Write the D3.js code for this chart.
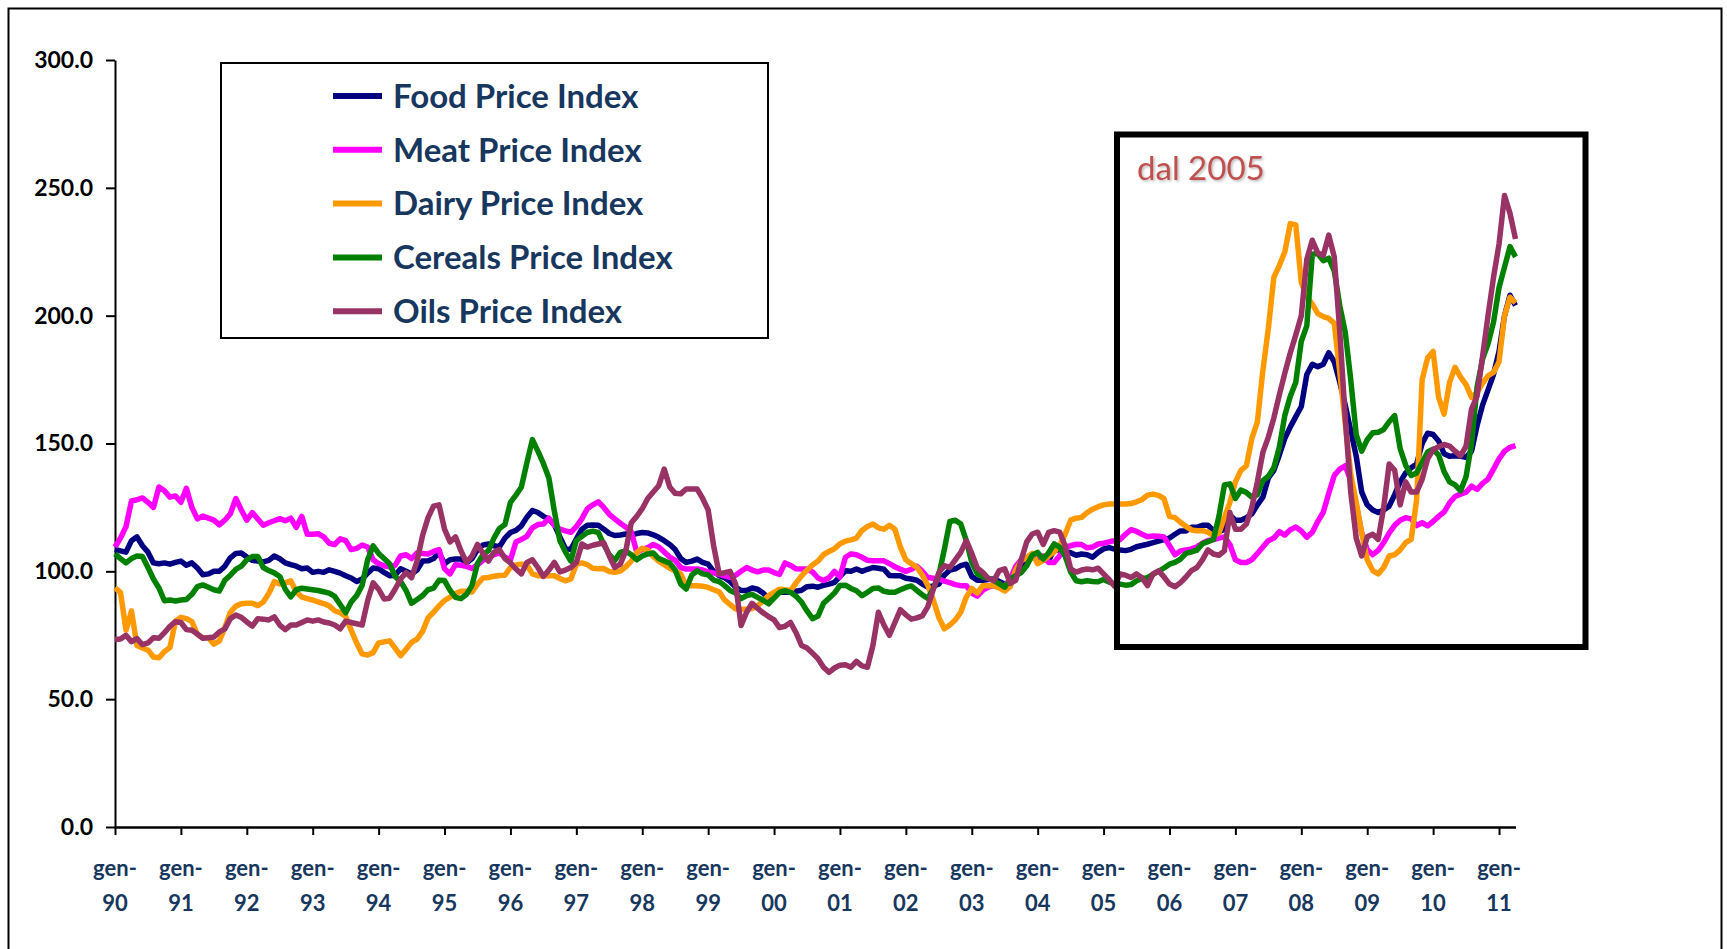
<!DOCTYPE html>
<html>
<head>
<meta charset="utf-8">
<script src="https://cdn.jsdelivr.net/npm/d3@7"></script>
<style>
  body { margin: 0; background: #fff; }
  text { font-family: Lato, "Open Sans", sans-serif; }
</style>
</head>
<body>
<script>
// monthly values, gen-90 .. apr-11 (256 months)
var food = [
  108.6, 108, 107.5, 112, 113.5, 110, 107.5, 103.3, 103, 103.3, 102.8, 103.5,
  104, 102.4, 103.3, 101.3, 98.7, 99, 100, 100, 102, 105.3, 107, 107.2,
  105.6, 104.3, 104, 103.7, 104.3, 106, 104.9, 103.3, 102.6, 102, 101, 101.3,
  99.6, 100, 99.6, 100.6, 100, 99.3, 98.3, 97.4, 96, 97, 99.3, 101.3,
  101, 99.6, 98.3, 98.5, 101, 100, 99, 100.5, 104, 104.1, 105, 107.4,
  103, 104.5, 104.8, 104.8, 103.3, 105, 108.5, 110.3, 110.7, 110, 109.6, 113,
  115.2, 116, 117.8, 121.2, 123.8, 123, 121.5, 120.4, 118.2, 113.5, 109, 108.5,
  112.6, 116.5, 118, 118.1, 118, 116.5, 114.8, 114, 114.2, 114.6, 114, 114.8,
  115.2, 115, 114.3, 113.3, 112, 110.5, 108.5, 105, 103.5, 104, 104.8, 103.5,
  102.8, 100, 98.3, 97.5, 96, 93.8, 92.5, 92.5, 93.5, 93, 91.5, 89.5,
  90.5, 91.8, 91.8, 91.8, 92.2, 92.6, 94, 94.2, 93.8, 94.5, 95, 95.7,
  98, 100.2, 100, 100.9, 100, 100.8, 101.5, 101.2, 100.8, 98.4, 98.3, 98.3,
  97.3, 97, 96.5, 95, 93.8, 94.3, 95, 98.5, 100.5, 101, 102.2, 102.8,
  98, 96.5, 96.5, 96.8, 97, 96, 95, 95, 98.5, 102, 104.5, 105.5,
  105.3, 104.5, 104.2, 108.5, 108.2, 107.8, 107.3, 106.3, 106.8, 106.5, 105.5, 107.4,
  108.8, 109.3, 108.7, 108.3, 108.1, 108.6, 109.6, 110.1, 110.6, 111.2, 111.8, 112.4,
  113, 114.5, 115.8, 115.8, 117.2, 117.2, 118, 118, 116, 115.5, 116.5, 122,
  120, 120, 121, 122.5, 126, 129, 136.5, 139.5, 145.5, 152, 156.5, 160.5,
  164.5, 177, 181, 180, 181, 185.5, 182, 174, 165, 155, 145, 131,
  126, 124, 123, 124, 125.5, 130, 135, 138.5, 140.5, 142, 150, 154,
  153.5, 151, 146, 145, 145.2, 145, 144.6, 147, 157, 165, 171, 177,
  186, 200, 208, 204
];
var meat = [
  109.5, 113, 117.5, 127.5, 128, 128.7, 127, 125, 133, 131.5, 129, 129.5,
  127, 132.5, 125, 120.5, 121.6, 120.8, 120, 118.2, 120, 122.5, 128.5, 124,
  120, 123, 120.5, 118, 119, 119.8, 120.6, 119.8, 120.8, 117.2, 121.5, 114.5,
  114.5, 114.7, 113.5, 111, 110.5, 112.7, 112, 108.5, 109, 110.3, 109.5, 104.5,
  103, 102.2, 101.8, 102.3, 106, 106.5, 105, 107.2, 107, 106.8, 107.8, 108.5,
  101, 99, 102.6, 102.4, 102, 101.1, 102.5, 104.3, 105.3, 106.5, 107.2, 105.5,
  104.5, 111.5, 112.5, 113.7, 117, 118.3, 118.5, 120.8, 118, 116.5, 115.8, 115.3,
  117.5, 120.5, 124.5, 126, 127.2, 125, 122.3, 120.5, 118.8, 117.3, 115.5, 107.5,
  108.5, 109.3, 110.5, 109.5, 107.6, 105.6, 104.3, 101.5, 100.9, 100.9, 100.9, 100.5,
  99.8, 99.4, 98.8, 98.2, 97.6, 98.5, 100, 101.5, 100.5, 99.8, 100.5, 100.5,
  99.5, 98.8, 103.3, 102.3, 101, 100.9, 100.9, 99.8, 97.4, 96.4, 97.5, 100,
  97.8, 105.5, 106.8, 106.5, 105.5, 104.3, 104.1, 104.1, 104.1, 103, 101.8, 100.8,
  100, 100.8, 102, 100, 97.6, 97.3, 97, 96.2, 95.6, 94.8, 94.4, 94.4,
  91.5, 90.3, 92.6, 93.8, 94.4, 94.4, 94.4, 97, 102, 104.5, 105, 105.5,
  105.8, 106, 103.5, 103.5, 106.1, 109.5, 110, 110.6, 110.5, 109.2, 109.5, 110.7,
  111, 111.5, 112, 112.4, 114.5, 116.3, 115.6, 114.5, 113.5, 113.8, 113.7, 113.4,
  110, 106.5, 108, 108.4, 108.8, 109.6, 111, 112.1, 112.4, 113, 113.5, 110.5,
  104.5, 103.5, 103.5, 104.5, 107, 109.5, 112, 113, 115.5, 114.2, 116.3, 117.3,
  115.8, 113.3, 115.3, 119.5, 123.1, 130.5, 137.5, 140, 141.3, 135.5, 126, 115,
  108.5, 106.5, 108.2, 111.2, 115, 118, 120, 121, 120.5, 117.9, 119, 117.8,
  119.5, 121.5, 123.2, 126.8, 129.3, 130.2, 131, 133.3, 132, 134.4, 136.1, 140,
  144, 147, 148.5, 149.2
];
var dairy = [
  93.5, 91.8, 77, 84.5, 71, 70, 69.2, 66.5, 66.2, 68.6, 70.2, 80.5,
  82, 81.5, 80.3, 75.3, 74, 74, 71.5, 72.8, 78, 84, 86.4, 87.3,
  87.5, 87.5, 86.6, 88, 91.3, 96, 95, 95.5, 96.3, 92, 90, 89.3,
  88.8, 88, 87.4, 86.5, 84.6, 83.8, 82.4, 77, 72, 67.7, 67.3, 68.2,
  72, 72.4, 72.8, 70, 67, 69.5, 72.2, 73.5, 76.5, 81.8, 84, 86.5,
  88.6, 89.9, 91.3, 92.2, 92.2, 91.9, 95, 97.4, 97.6, 98.1, 98.4, 98.5,
  101.5, 102.5, 102.8, 102.5, 99, 98.3, 98.3, 98.3, 98.3, 97.2, 96.3, 97,
  102.8, 103.3, 102.6, 101.2, 101, 101.1, 99.9, 99.6, 100.1, 101.8, 104, 107.4,
  109, 108.3, 105.8, 104, 102.6, 101.2, 100.2, 99, 94.4, 94.4, 94.4, 94.2,
  93.7, 92.8, 92, 88.8, 87, 85.3, 85.2, 85.2, 85.5, 86.5, 88.5, 90.5,
  91.8, 93, 92.8, 92.4, 95.5, 98.2, 100.5, 102.5, 104, 106.5, 107.8, 108.8,
  110.8, 111.8, 112.3, 113, 116, 117.5, 118.5, 117, 116.5, 118, 116.5, 109.5,
  104.5, 103, 101.6, 98.5, 94.5, 88.8, 82, 77.5, 79, 81, 84, 90,
  93.3, 91.5, 94.4, 94.4, 94.4, 93.5, 92.3, 94, 100.5, 104, 105.5, 107,
  103, 104.3, 106, 107.6, 110, 114.5, 120, 120.8, 121.1, 123, 124.3, 125.3,
  126, 126.3, 126.3, 126.3, 126.3, 126.5, 127.2, 128.1, 129.8, 130.2, 129.7, 128.4,
  121.5, 121, 119.2, 117.6, 116.2, 115.9, 115.9, 115.3, 114, 115, 121, 127,
  135, 139.5, 141.3, 152, 158.5, 178.5, 195, 215, 219.6, 225, 236, 235.5,
  213, 207.4, 204.5, 200.8, 199.6, 198.9, 197, 178, 158, 138, 127, 115,
  104.5, 100.3, 99, 101.5, 106, 106.5, 108.4, 111.2, 112.5, 128, 175, 183.5,
  186, 168, 161.5, 174, 179.8, 176, 173, 168, 170, 173.5, 176.5, 177.8,
  182, 200, 207.2, 205
];
var cereals = [
  106.8, 105, 103.3, 105, 106, 105.8, 101.5, 97, 93.5, 88.5, 88.8, 88.4,
  88.8, 89, 91, 94, 94.7, 93.8, 92.8, 92.3, 96.5, 98.5, 100.8, 102,
  104.5, 105.8, 105.8, 101.5, 100.3, 99.4, 98, 93, 90, 92.8, 93.4, 93.1,
  92.8, 92.5, 92, 91.5, 90.2, 87, 83.8, 88, 90.5, 94.5, 104.5, 110,
  107, 105, 103, 98, 96, 92.5, 87.5, 89, 90.5, 92.8, 93.4, 96.5,
  96.4, 92.6, 89.8, 89.3, 91, 94.5, 103, 106.5, 108.1, 113, 116.8, 118.3,
  127, 129.8, 133, 142.5, 151.5, 147, 142.2, 136.5, 123.5, 112, 107.6, 104,
  112, 113.7, 115.2, 115.7, 115.2, 110.5, 106.5, 104.3, 107.4, 108, 106.5, 104.5,
  106, 106.8, 107.2, 105, 104.1, 103.2, 100.5, 95, 93.1, 98.5, 100.2, 99,
  98.6, 96.6, 96, 94.4, 92.5, 91.5, 89.3, 90.5, 91, 89.8, 88.7, 87.3,
  89.5, 91.8, 92.4, 91.8, 90.3, 88, 84.5, 81.5, 82.5, 87.5, 89.5, 91.5,
  94.5, 94.6, 93.3, 92.4, 90.5, 91.8, 93.3, 93.5, 92.2, 91.8, 91.8, 92.8,
  93.7, 94.3, 92.5, 90.8, 89.4, 93.2, 98.5, 108.5, 119.5, 120, 118.5, 112,
  103.5, 99, 97.8, 97.3, 96.5, 95.2, 93.8, 97, 98.3, 99.5, 102.2, 106.3,
  107.4, 104.8, 107.3, 110.7, 109.5, 106, 99.8, 96.3, 95.9, 96.3, 96, 95.9,
  96.8, 95.8, 95.1, 95, 94.6, 94.8, 96.3, 97.1, 97.5, 98.8, 100, 101.3,
  102.8, 103.5, 104.8, 107, 107.6, 108.3, 110.8, 111.6, 112.5, 121.5, 133.8, 134.2,
  128.5, 131.8, 130.8, 129, 130, 135.5, 137.2, 140.5, 148.5, 161, 168.5, 174,
  190, 196, 224, 224.3, 221.5, 222.5, 217.5, 204, 193.5, 175, 153.5, 147,
  151.5, 154.2, 154.4, 155.5, 158.5, 160.9, 148, 141.5, 137.5, 138.5, 142.5, 146.7,
  147.8, 145.5, 139, 135, 133.8, 131.5, 137, 150, 172, 183, 189, 197.5,
  211, 219, 227, 223
];
var oils = [
  73.3, 73.5, 75, 72.5, 73.7, 71.3, 72, 74, 73.8, 76, 78.5, 80.3,
  80, 77.2, 77, 75.5, 73.8, 74, 74.3, 76.3, 77.5, 81.5, 82.9, 82,
  80.2, 78.6, 81.5, 81.3, 81, 82.2, 79, 77.2, 79, 79, 80, 81,
  80.5, 81, 80.2, 79.8, 79, 77.5, 80.5, 80, 79.5, 79, 88.5, 95.5,
  93, 89.2, 89.5, 93, 97, 99.5, 97.5, 104, 114, 121, 125.5, 126,
  116.5, 111.5, 113.5, 108, 103.5, 106, 110.5, 107, 104, 107.5, 108.5, 105,
  103.3, 100.9, 99, 103.5, 104.5, 101.5, 98, 100.5, 103.5, 99.8, 100.5, 101.5,
  103.5, 110.7, 109.5, 110.2, 110.7, 111.2, 106, 101.5, 102.8, 108, 119, 121.5,
  124.5, 128.5, 131, 133.5, 140, 133, 130.5, 130.3, 132.2, 132.2, 132.2, 128.5,
  124, 110, 99, 99.5, 100, 95, 78.8, 84, 87.5, 85.5, 83.8, 82.3,
  81, 78, 78.5, 80, 76, 71, 70, 68, 65.8, 62.5, 60.5, 62.2,
  63.3, 63.5, 62.5, 64.8, 63, 62.5, 71, 84, 79, 75, 80, 85,
  83, 81.3, 81.8, 82.6, 86.2, 93, 99.5, 102.2, 101.5, 104.5, 107.4, 112,
  107, 101.3, 99.6, 97.2, 96.3, 100.3, 101, 95.3, 96.5, 104.5, 111.5, 114.6,
  115.3, 110.5, 115.2, 115.9, 115.3, 110, 101, 99.7, 100.5, 100.9, 100.6, 101.2,
  99, 96.8, 94.2, 99, 98.5, 97.6, 99, 97.5, 94.4, 99, 100.2, 97.8,
  95, 94, 95.6, 97.8, 100.3, 101.5, 104.5, 108.4, 106.8, 106.3, 108, 123,
  116.5, 116.5, 118.5, 125, 135, 146.5, 152.5, 160, 169, 177.5, 185.5, 192.5,
  200, 222, 229.5, 224.5, 223.5, 231.5, 223, 194, 160, 131, 113, 106,
  113.5, 114.5, 112.5, 125, 142, 139.5, 126, 135, 131, 131, 136, 144,
  147.5, 148.8, 149.6, 149, 147, 145.2, 149, 163.5, 168.5, 184, 200, 215,
  228, 247, 240, 230
];

var seriesNames = ["Food Price Index", "Meat Price Index", "Dairy Price Index", "Cereals Price Index", "Oils Price Index"];
var seriesColors = ["#000080", "#ff00ff", "#ff9900", "#008000", "#993366"];
var seriesValues = [food, meat, dairy, cereals, oils];
var yearLabels = ["90", "91", "92", "93", "94", "95", "96", "97", "98", "99", "00",
                  "01", "02", "03", "04", "05", "06", "07", "08", "09", "10", "11"];
var yTicks = [0, 50, 100, 150, 200, 250, 300];

var width = 1727, height = 949;
var navy = "#17375e";

var svg = d3.select("body").append("svg")
    .attr("width", width)
    .attr("height", height);

// outer frame (bottom edge runs off the picture)
svg.append("rect")
    .attr("x", 8.5).attr("y", 8.5)
    .attr("width", 1713).attr("height", 1000)
    .style("fill", "none").style("stroke", "#000").style("stroke-width", 2);

var x = d3.scaleLinear().domain([0, 255]).range([115, 1515.5]);
var y = d3.scaleLinear().domain([0, 300]).range([827, 60]);

// y axis
var yAxis = svg.append("g")
    .attr("transform", "translate(115,0)")
    .call(d3.axisLeft(y).tickValues(yTicks).tickSize(9).tickSizeOuter(0).tickFormat(d3.format(".1f")));
yAxis.select(".domain").style("stroke", "#000").style("stroke-width", 2);
yAxis.selectAll(".tick line").style("stroke", "#000").style("stroke-width", 2);
yAxis.selectAll(".tick text")
    .attr("x", -22)
    .style("font-size", "23px").style("font-weight", "bold").style("fill", "#000");

// x axis, one tick per january
var xAxis = svg.append("g")
    .attr("transform", "translate(0,827)")
    .call(d3.axisBottom(x).tickValues(d3.range(0, 253, 12)).tickSize(8).tickSizeOuter(0).tickFormat(""));
xAxis.select(".domain").style("stroke", "#000").style("stroke-width", 2.5);
xAxis.selectAll(".tick line").style("stroke", "#000").style("stroke-width", 2);

var xl = svg.append("g").selectAll("g")
    .data(yearLabels)
    .enter().append("g")
    .attr("transform", function(d, i) { return "translate(" + x(i * 12) + ",0)"; });
xl.append("text")
    .attr("y", 868).attr("dy", "0.35em")
    .attr("text-anchor", "middle")
    .style("font-size", "22px").style("font-weight", "bold").style("fill", navy)
    .text("gen-");
xl.append("text")
    .attr("y", 903).attr("dy", "0.35em")
    .attr("text-anchor", "middle")
    .style("font-size", "22px").style("font-weight", "bold").style("fill", navy)
    .text(function(d) { return d; });

// the lines
var line = d3.line()
    .x(function(d, i) { return x(i); })
    .y(function(d) { return y(d); });

svg.append("g").selectAll("path")
    .data(seriesValues)
    .enter().append("path")
    .attr("d", line)
    .style("fill", "none")
    .style("stroke", function(d, i) { return seriesColors[i]; })
    .style("stroke-width", 5.5)
    .style("stroke-linejoin", "round");

// legend
svg.append("rect")
    .attr("x", 221).attr("y", 63)
    .attr("width", 547).attr("height", 275)
    .style("fill", "#fff").style("stroke", "#000").style("stroke-width", 2);

var leg = svg.append("g").selectAll("g")
    .data(seriesNames)
    .enter().append("g")
    .attr("transform", function(d, i) { return "translate(0," + (96 + i * 53.8) + ")"; });
leg.append("line")
    .attr("x1", 333).attr("x2", 382)
    .style("stroke", function(d, i) { return seriesColors[i]; })
    .style("stroke-width", 6);
leg.append("text")
    .attr("x", 393).attr("dy", "0.36em")
    .style("font-size", "33px").style("font-weight", "bold").style("fill", navy)
    .text(function(d) { return d; });

// "dal 2005" box
var defs = svg.append("defs");
var shadow = defs.append("filter").attr("id", "shadow");
shadow.append("feDropShadow")
    .attr("dx", 1.5).attr("dy", 1.5).attr("stdDeviation", 1)
    .attr("flood-color", "#777").attr("flood-opacity", 0.5);

svg.append("rect")
    .attr("x", 1117).attr("y", 134.5)
    .attr("width", 468.5).attr("height", 512.5)
    .style("fill", "none").style("stroke", "#000").style("stroke-width", 6);
svg.append("text")
    .attr("x", 1137).attr("y", 180)
    .attr("filter", "url(#shadow)")
    .style("font-size", "33px").style("fill", "#c0504d")
    .text("dal 2005");
</script>
</body>
</html>
